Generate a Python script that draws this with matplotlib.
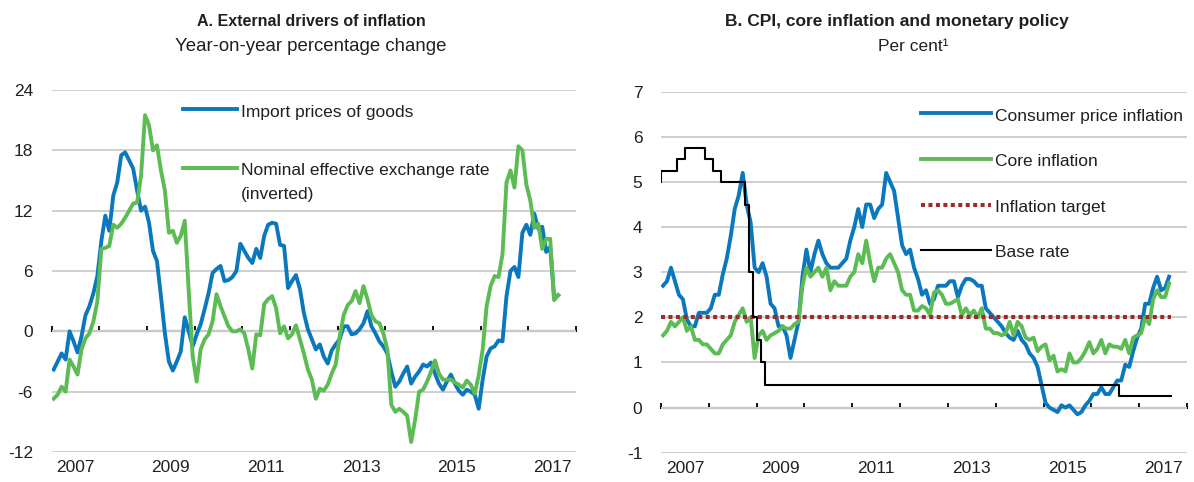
import numpy as np
import matplotlib
matplotlib.use("Agg")
import matplotlib.pyplot as plt
from matplotlib import font_manager
from matplotlib.lines import Line2D

# monthly data, Jan 2007 - Aug 2017
import_prices = [
    -3.8, -3.0, -2.2, -2.8, 0.0, -1.0, -2.1, -0.5, 1.6, 2.5, 3.8, 5.5,
    9.0, 11.5, 10.0, 13.5, 14.8, 17.5, 17.8, 17.0, 16.2, 14.0, 12.0, 12.4,
    10.8, 8.0, 7.0, 3.5, -0.2, -3.0, -3.9, -3.0, -2.0, 1.4, 0.0, -1.5,
    -0.3, 0.7, 2.2, 3.8, 5.8, 6.2, 6.5, 5.0, 5.1, 5.4, 6.0, 8.7,
    8.0, 7.3, 6.8, 8.2, 7.3, 9.5, 10.6, 10.8, 10.7, 8.6, 8.5, 4.3,
    5.0, 5.6, 4.2, 1.8, 0.2, -0.8, -1.8, -1.3, -2.5, -3.2, -1.9, -1.3,
    -0.8, 0.5, 0.5, -0.3, -0.2, 0.2, 0.8, 2.0, 0.5, -0.2, -1.0, -1.5,
    -2.2, -4.0, -5.5, -5.0, -4.2, -3.5, -5.2, -4.5, -4.0, -3.3, -3.5, -3.1,
    -4.2, -5.2, -5.8, -5.0, -4.3, -5.2, -5.9, -6.3, -5.8, -6.0, -6.3, -7.7,
    -4.8, -2.5, -1.7, -1.5, -0.9, -1.0, 3.5, 6.0, 6.4, 5.4, 9.8, 10.6,
    9.6, 11.7, 10.2, 10.4, 7.9, 8.4, 3.3, 3.6,
]
neer_inverted = [
    -6.7, -6.3, -5.5, -6.0, -2.8, -3.5, -4.3, -1.8, -0.7, -0.2, 1.0, 3.0,
    8.2, 8.3, 8.5, 10.6, 10.3, 10.7, 11.3, 12.0, 12.7, 12.8, 15.5, 21.5,
    20.5, 18.0, 18.5, 16.0, 14.0, 9.8, 10.0, 8.8, 9.5, 11.0, 4.0, -2.5,
    -5.0, -1.8, -0.8, -0.3, 1.0, 3.7, 2.5, 1.5, 0.5, 0.0, 0.0, 0.2,
    -0.2, -1.8, -3.7, -0.3, -0.4, 2.7, 3.2, 3.5, 2.3, -0.2, 0.5, -0.7,
    -0.3, 0.6, -0.8, -2.2, -3.8, -4.8, -6.7, -5.7, -5.9, -5.3, -4.2, -3.3,
    -0.5, 1.6, 2.6, 3.0, 4.0, 2.8, 4.5, 3.2, 1.6, 1.0, 0.8, -0.2,
    -1.8, -7.3, -8.0, -7.7, -8.0, -8.4, -11.0, -8.8, -6.0, -5.8, -5.0, -4.0,
    -2.9, -4.2, -4.8, -4.8, -4.8, -5.1, -5.3, -5.6, -4.9, -5.3, -6.2, -4.4,
    -1.8, 2.5, 4.5, 5.5, 5.4, 7.7, 14.8, 16.0, 14.3, 18.4, 18.0, 14.6,
    13.0, 10.3, 10.7, 8.2, 9.2, 9.2, 3.1, 3.6,
]
cpi = [
    2.7, 2.8, 3.1, 2.8, 2.5, 2.4, 1.95, 1.8, 1.8, 2.1, 2.1, 2.1,
    2.2, 2.5, 2.5, 2.95, 3.3, 3.8, 4.4, 4.7, 5.2, 4.5, 4.1, 3.1,
    3.0, 3.2, 2.9, 2.3, 2.2, 1.8, 1.8, 1.6, 1.1, 1.5, 1.9, 2.9,
    3.5, 3.0, 3.4, 3.7, 3.4, 3.2, 3.1, 3.1, 3.1, 3.2, 3.3, 3.7,
    4.0, 4.4, 4.0, 4.5, 4.5, 4.2, 4.4, 4.5, 5.2, 5.0, 4.8, 4.2,
    3.6, 3.4, 3.5, 3.1, 2.85, 2.5, 2.6, 2.3, 2.4, 2.7, 2.7, 2.7,
    2.8, 2.8, 2.45, 2.7, 2.85, 2.85, 2.8, 2.7, 2.7, 2.2, 2.1, 2.0,
    1.9, 1.8, 1.65, 1.55, 1.5, 1.7, 1.5, 1.4, 1.2, 1.1, 0.9, 0.5,
    0.1, 0.0, -0.05, -0.1, 0.05, 0.0, 0.05, -0.05, -0.15, -0.1, 0.05, 0.15,
    0.3, 0.3, 0.45, 0.3, 0.3, 0.45, 0.6, 0.6, 0.95, 0.9, 1.25, 1.55,
    1.75, 2.3, 2.3, 2.65, 2.9, 2.6, 2.65, 2.9,
]
core = [
    1.6, 1.7, 1.9, 1.8, 1.9, 2.0, 1.7, 1.8, 1.5, 1.5, 1.4, 1.4,
    1.3, 1.2, 1.2, 1.4, 1.5, 1.6, 1.9, 2.05, 2.2, 1.9, 2.0, 1.1,
    1.6, 1.7, 1.5, 1.6, 1.65, 1.7, 1.8, 1.75, 1.75, 1.85, 1.9, 2.7,
    3.1, 2.9, 3.0, 3.1, 2.9, 3.1, 2.6, 2.8, 2.7, 2.7, 2.7, 2.9,
    3.0, 3.4, 3.2, 3.7, 3.2, 2.8, 3.1, 3.1, 3.3, 3.4, 3.2, 3.0,
    2.6, 2.5, 2.5, 2.15, 2.15, 2.25, 2.2, 2.05, 2.55, 2.6, 2.5, 2.3,
    2.3, 2.35, 2.4, 2.05, 2.2, 2.05, 2.15, 2.0, 2.2, 1.75, 1.75, 1.65,
    1.65, 1.6, 1.65, 1.9, 1.6, 1.9, 1.8, 1.55, 1.5, 1.55, 1.25, 1.35,
    1.4, 1.05, 1.15, 0.8, 0.85, 0.8, 1.2, 1.0, 1.0, 1.1, 1.25, 1.45,
    1.2, 1.3, 1.5, 1.2, 1.4, 1.35, 1.35, 1.3, 1.5, 1.2, 1.55, 1.6,
    1.65, 2.0, 1.85, 2.4, 2.6, 2.45, 2.45, 2.75,
]
# Bank rate from Dec 2006: level and number of months it was held
base_rate_levels = [5.0, 5.25, 5.5, 5.75, 5.5, 5.25, 5.0, 4.5, 3.0, 2.0, 1.5, 1.0, 0.5, 0.25]
base_rate_months = [1, 4, 2, 5, 2, 2, 6, 1, 1, 1, 1, 1, 89, 13]
inflation_target = 2.0

yticks_a = [-12, -6, 0, 6, 12, 18, 24]
yticks_b = [-1, 0, 1, 2, 3, 4, 5, 6, 7]
label_years = [2007, 2009, 2011, 2013, 2015, 2017]

blue = "#0B78BE"
green = "#5DBB54"
red = "#9E2A2B"
grid_color = "#CFCFCF"
text_color = "#231F20"

names = {f.name for f in font_manager.fontManager.ttflist}
if "Liberation Sans Narrow" in names:
    plt.rcParams["font.family"] = ["Liberation Sans Narrow", "DejaVu Sans"]
    fs = 15.5
else:
    plt.rcParams["font.family"] = ["Liberation Sans", "DejaVu Sans"]
    fs = 12.5
plt.rcParams["text.color"] = text_color

n = len(cpi)
t = 2007 + (np.arange(n) + 0.5) / 12          # mid-month
base_rate = np.repeat(base_rate_levels, base_rate_months)
t_edges = 2007 + np.arange(len(base_rate)) / 12  # month ends, Dec 2006 first

W, H = 1194, 482
def fx(px):
    return px / W
def fy(py):
    return 1 - py / H

fig = plt.figure(figsize=(W / 100, H / 100), dpi=100)
ax1 = fig.add_axes([fx(51.7), fy(452), fx(576) - fx(51.7), fy(90) - fy(452)])
ax2 = fig.add_axes([fx(661), fy(452.7), fx(1187) - fx(661), fy(91.7) - fy(452.7)])


def style_axis(ax, yticks):
    ax.set_xlim(2007, 2018)
    ax.set_ylim(yticks[0], yticks[-1])
    ax.set_yticks(yticks)
    ax.set_yticklabels([str(v) for v in yticks])
    ax.set_xticks(np.array(label_years) + 0.5)
    ax.set_xticklabels([str(y) for y in label_years])
    for s in ax.spines.values():
        s.set_visible(False)
    ax.tick_params(axis="both", length=0, labelsize=fs, labelcolor=text_color)
    ax.tick_params(axis="y", pad=13.5)
    ax.tick_params(axis="x", pad=6)
    ax.grid(axis="y", color=grid_color, lw=1.4)
    ax.set_axisbelow(True)
    # zero line with year ticks
    zero = ax.secondary_xaxis((0 - yticks[0]) / (yticks[-1] - yticks[0]))
    zero.set_ticks(np.arange(2007, 2019))
    zero.tick_params(direction="in", length=3.4, width=1.3, color="black",
                     labelbottom=False)
    zero.spines["bottom"].set_linewidth(1.5)
    zero.spines["bottom"].set_color("black")


style_axis(ax1, yticks_a)
style_axis(ax2, yticks_b)

# Panel A
ax1.plot(t, import_prices, color=blue, lw=2.8)
ax1.plot(t, neer_inverted, color=green, lw=2.8)

# Panel B
ax2.plot(t, cpi, color=blue, lw=2.8)
ax2.plot(t, core, color=green, lw=2.8)
ax2.plot(t_edges, np.full(len(t_edges), inflation_target), color=red, lw=2.9,
         ls=(0, (1, 0.85)))
ax2.step(t_edges, base_rate, where="pre", color="black", lw=1.5)


def legend_key(x0, x1, y, label, baseline, **kw):
    fig.add_artist(Line2D([fx(x0), fx(x1)], [fy(y), fy(y)],
                          transform=fig.transFigure, **kw))
    fig.text(fx(x1 + 4), fy(baseline), label, fontsize=fs, va="baseline")


legend_key(183, 237, 109, "Import prices of goods", 116.5, color=blue, lw=2.8)
legend_key(183, 237, 168, "Nominal effective exchange rate", 175.5, color=green, lw=2.8)
fig.text(fx(241), fy(199), "(inverted)", fontsize=fs, va="baseline")

legend_key(921, 991, 113, "Consumer price inflation", 120.7, color=blue, lw=2.8)
legend_key(921, 991, 159, "Core inflation", 166, color=green, lw=2.8)
legend_key(921, 991, 205, "Inflation target", 211.7, color=red, lw=2.9, ls=(0, (1, 0.85)))
legend_key(921, 991, 250, "Base rate", 256.7, color="black", lw=1.5)

# Titles
fig.text(fx(311), fy(26), "A. External drivers of inflation", fontsize=fs * 0.92,
         weight="bold", ha="center", va="baseline")
fig.text(fx(311), fy(51), "Year-on-year percentage change", fontsize=fs * 1.07,
         ha="center", va="baseline")
fig.text(fx(897), fy(26), "B. CPI, core inflation and monetary policy", fontsize=fs,
         weight="bold", ha="center", va="baseline")
fig.text(fx(913), fy(51), "Per cent¹", fontsize=fs, ha="center", va="baseline")

fig.savefig("out.png", dpi=100)
